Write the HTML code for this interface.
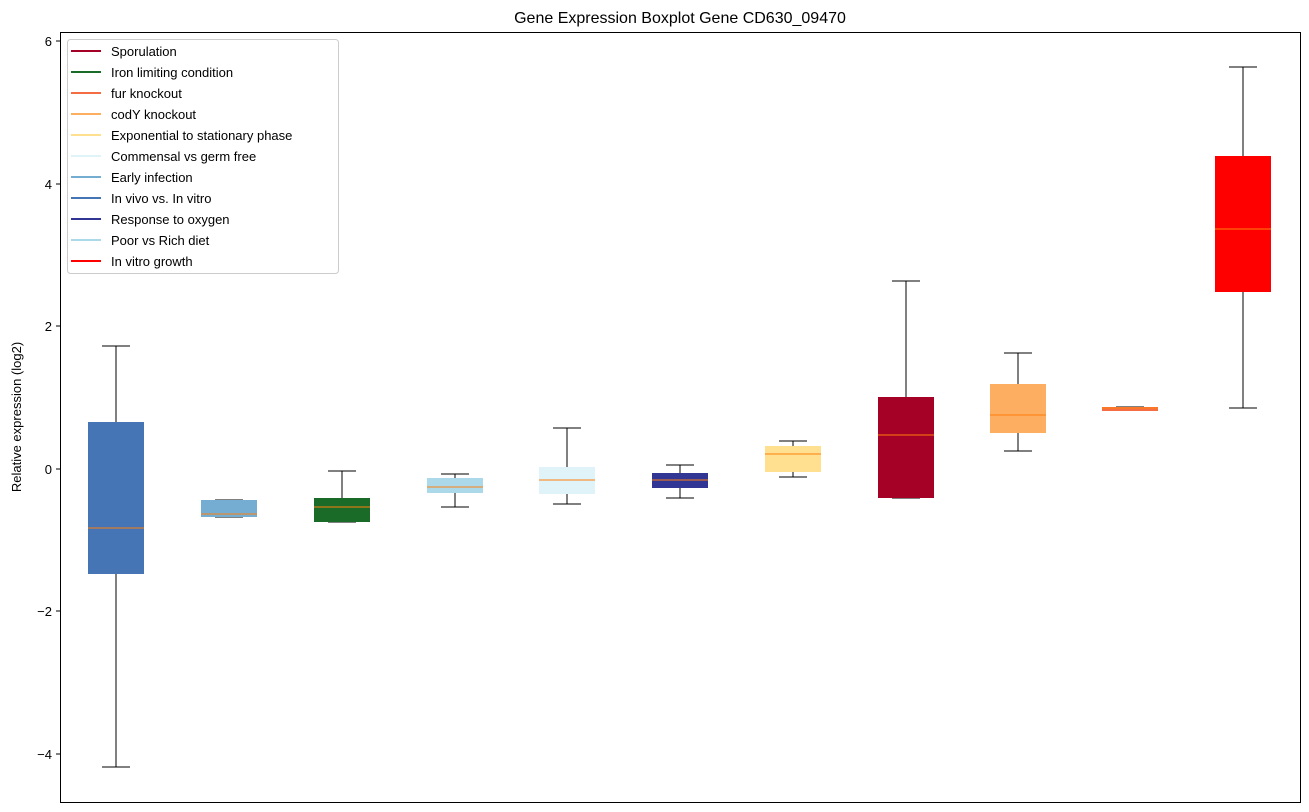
<!DOCTYPE html>
<html><head><meta charset="utf-8"><style>body{margin:0;background:#fff}svg{display:block}text{font-family:"Liberation Sans","DejaVu Sans",sans-serif}</style></head>
<body>
<svg width="1309" height="812" viewBox="0 0 1309 812" xmlns="http://www.w3.org/2000/svg">
<rect width="1309" height="812" fill="#fff"/>
<text x="680" y="23" font-size="16" text-anchor="middle">Gene Expression Boxplot Gene CD630_09470</text>
<g stroke="#000" stroke-width="1" fill="none">
<!-- whiskers: x, lo, hi, boxTop, boxBottom -->
<line x1="116" y1="346" x2="116" y2="422"/><line x1="116" y1="574" x2="116" y2="767"/><line x1="102" y1="346" x2="130" y2="346"/><line x1="102" y1="767" x2="130" y2="767"/>
<line x1="215" y1="500" x2="243" y2="500"/><line x1="215" y1="517" x2="243" y2="517"/>
<line x1="342" y1="471" x2="342" y2="498"/><line x1="328" y1="471" x2="356" y2="471"/><line x1="328" y1="522" x2="356" y2="522"/>
<line x1="455" y1="474" x2="455" y2="478"/><line x1="455" y1="493" x2="455" y2="507"/><line x1="441" y1="474" x2="469" y2="474"/><line x1="441" y1="507" x2="469" y2="507"/>
<line x1="567" y1="428" x2="567" y2="467"/><line x1="567" y1="494" x2="567" y2="504"/><line x1="553" y1="428" x2="581" y2="428"/><line x1="553" y1="504" x2="581" y2="504"/>
<line x1="680" y1="465" x2="680" y2="473"/><line x1="680" y1="488" x2="680" y2="498"/><line x1="666" y1="465" x2="694" y2="465"/><line x1="666" y1="498" x2="694" y2="498"/>
<line x1="793" y1="441" x2="793" y2="446"/><line x1="793" y1="472" x2="793" y2="477"/><line x1="779" y1="441" x2="807" y2="441"/><line x1="779" y1="477" x2="807" y2="477"/>
<line x1="906" y1="281" x2="906" y2="397"/><line x1="892" y1="281" x2="920" y2="281"/><line x1="892" y1="498" x2="920" y2="498"/>
<line x1="1018" y1="353" x2="1018" y2="384"/><line x1="1018" y1="433" x2="1018" y2="451"/><line x1="1004" y1="353" x2="1032" y2="353"/><line x1="1004" y1="451" x2="1032" y2="451"/>
<line x1="1116" y1="407" x2="1144" y2="407"/><line x1="1116" y1="410" x2="1144" y2="410"/>
<line x1="1243" y1="67" x2="1243" y2="156"/><line x1="1243" y1="292" x2="1243" y2="408"/><line x1="1229" y1="67" x2="1257" y2="67"/><line x1="1229" y1="408" x2="1257" y2="408"/>
</g>
<g>
<rect x="88" y="422" width="56" height="152" fill="#4575b4"/>
<rect x="201" y="500" width="56" height="17" fill="#74add1"/>
<rect x="314" y="498" width="56" height="24" fill="#1b6b28"/>
<rect x="427" y="478" width="56" height="15" fill="#abd9e9"/>
<rect x="539" y="467" width="56" height="27" fill="#e0f3f8"/>
<rect x="652" y="473" width="56" height="15" fill="#313695"/>
<rect x="765" y="446" width="56" height="26" fill="#fee090"/>
<rect x="878" y="397" width="56" height="101" fill="#a50026"/>
<rect x="990" y="384" width="56" height="49" fill="#fdae61"/>
<rect x="1102" y="407" width="56" height="4" fill="#f46d43"/>
<rect x="1215" y="156" width="56" height="136" fill="#ff0000"/>
</g>
<g stroke="#ff7f0e" stroke-width="1">
<line x1="88" y1="528" x2="144" y2="528"/><line x1="201" y1="514" x2="257" y2="514"/><line x1="314" y1="507" x2="370" y2="507"/><line x1="427" y1="487" x2="483" y2="487"/><line x1="539" y1="480" x2="595" y2="480"/><line x1="652" y1="480" x2="708" y2="480"/><line x1="765" y1="454" x2="821" y2="454"/><line x1="878" y1="435" x2="934" y2="435"/><line x1="990" y1="415" x2="1046" y2="415"/><line x1="1102" y1="408" x2="1158" y2="408"/><line x1="1215" y1="229" x2="1271" y2="229"/>
</g>
<rect x="60.5" y="32.5" width="1240" height="770" fill="none" stroke="#000"/>
<g font-size="13" text-anchor="end">
<line x1="56" y1="41" x2="60" y2="41" stroke="#000"/><text x="52" y="46">6</text>
<line x1="56" y1="184" x2="60" y2="184" stroke="#000"/><text x="52" y="189">4</text>
<line x1="56" y1="326" x2="60" y2="326" stroke="#000"/><text x="52" y="331">2</text>
<line x1="56" y1="469" x2="60" y2="469" stroke="#000"/><text x="52" y="474">0</text>
<line x1="56" y1="611" x2="60" y2="611" stroke="#000"/><text x="52" y="616">−2</text>
<line x1="56" y1="754" x2="60" y2="754" stroke="#000"/><text x="52" y="759">−4</text>
</g>
<text transform="translate(21,417) rotate(-90)" font-size="13" text-anchor="middle">Relative expression (log2)</text>
<rect x="67.5" y="39.5" width="271" height="234" rx="3" fill="#fff" fill-opacity="0.8" stroke="#ccc"/>
<g font-size="13" stroke-width="2">
<line x1="71" y1="51" x2="101" y2="51" stroke="#a50026"/><text x="111" y="56">Sporulation</text>
<line x1="71" y1="72" x2="101" y2="72" stroke="#1b6b28"/><text x="111" y="77">Iron limiting condition</text>
<line x1="71" y1="93" x2="101" y2="93" stroke="#f46d43"/><text x="111" y="98">fur knockout</text>
<line x1="71" y1="114" x2="101" y2="114" stroke="#fdae61"/><text x="111" y="119">codY knockout</text>
<line x1="71" y1="135" x2="101" y2="135" stroke="#fee090"/><text x="111" y="140">Exponential to stationary phase</text>
<line x1="71" y1="156" x2="101" y2="156" stroke="#e0f3f8"/><text x="111" y="161">Commensal vs germ free</text>
<line x1="71" y1="177" x2="101" y2="177" stroke="#74add1"/><text x="111" y="182">Early infection</text>
<line x1="71" y1="198" x2="101" y2="198" stroke="#4575b4"/><text x="111" y="203">In vivo vs. In vitro</text>
<line x1="71" y1="219" x2="101" y2="219" stroke="#313695"/><text x="111" y="224">Response to oxygen</text>
<line x1="71" y1="240" x2="101" y2="240" stroke="#abd9e9"/><text x="111" y="245">Poor vs Rich diet</text>
<line x1="71" y1="261" x2="101" y2="261" stroke="#ff0000"/><text x="111" y="266">In vitro growth</text>
</g>
</svg>
</body></html>
